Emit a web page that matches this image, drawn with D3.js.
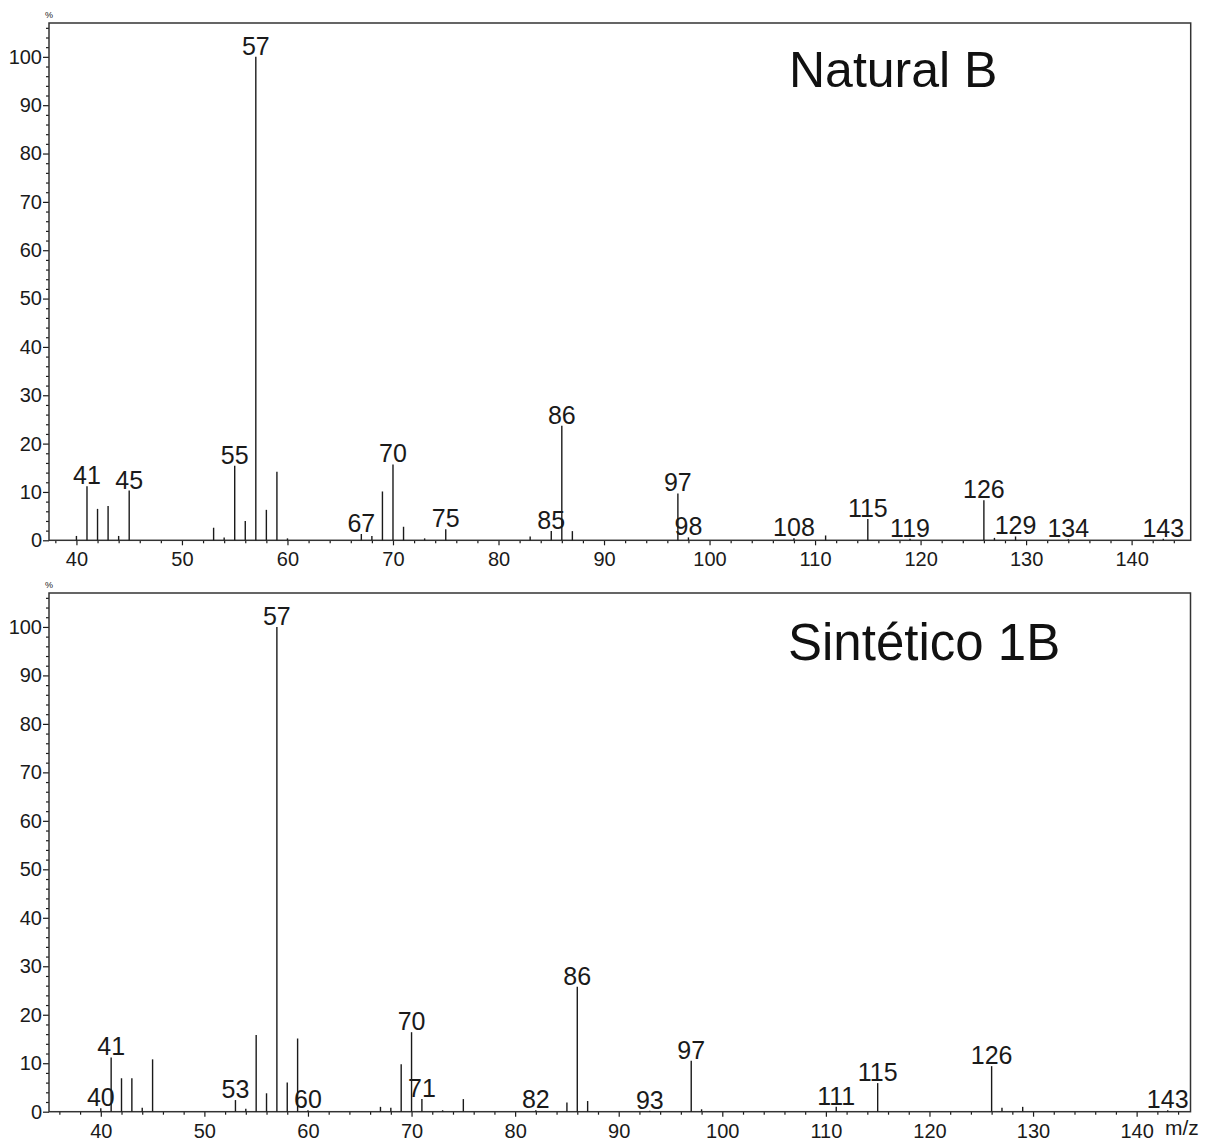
<!DOCTYPE html>
<html>
<head>
<meta charset="utf-8">
<script src="https://cdn.jsdelivr.net/npm/d3@7"></script>
<style>
  html, body { margin: 0; padding: 0; background: #fff; }
  svg { display: block; font-family: "Liberation Sans", Arial, sans-serif; }
</style>
</head>
<body>
<svg id="chart" width="1206" height="1141"></svg>
<script>
// Mass spectra: m/z of each peak and its relative intensity (%)
const naturalMz = [40, 41, 42, 43, 44, 45, 53, 54, 55, 56, 57, 58, 59, 60, 67, 68, 69, 70, 71, 73, 75, 83, 85, 86, 87, 97, 98, 108, 111, 115, 119, 126, 127, 129, 134, 143];
const naturalIntensity = [0.9, 11.2, 6.5, 7.1, 0.9, 10.3, 2.6, 0.6, 15.4, 4.0, 100, 6.3, 14.2, 0.4, 1.3, 0.9, 10.1, 15.7, 2.8, 0.4, 2.3, 0.8, 1.9, 23.7, 1.9, 9.7, 0.6, 0.4, 1.0, 4.4, 0.3, 8.3, 0.5, 0.8, 0.2, 0.3];
const naturalLabeled = [41, 45, 55, 57, 67, 70, 75, 85, 86, 97, 98, 108, 115, 119, 126, 129, 134, 143];

const syntheticMz = [40, 41, 42, 43, 44, 45, 53, 54, 55, 56, 57, 58, 59, 60, 67, 68, 69, 70, 71, 73, 75, 82, 85, 86, 87, 93, 97, 98, 111, 115, 126, 127, 129, 143];
const syntheticIntensity = [0.7, 11.2, 6.9, 6.9, 0.8, 10.8, 2.4, 0.6, 15.8, 3.8, 100, 6.0, 15.1, 0.3, 1.0, 0.8, 9.8, 16.4, 2.6, 0.3, 2.6, 0.3, 1.9, 25.8, 2.2, 0.2, 10.5, 0.5, 1.0, 5.9, 9.4, 0.8, 1.0, 0.3];
const syntheticLabeled = [40, 41, 53, 57, 60, 70, 71, 82, 86, 93, 97, 111, 115, 126, 143];

const xTickLabels = [40, 50, 60, 70, 80, 90, 100, 110, 120, 130, 140];
const yTickLabels = [0, 10, 20, 30, 40, 50, 60, 70, 80, 90, 100];
const panelTitles = ["Natural B", "Sintético 1B"];

const svg = d3.select("#chart");
const ink = "#1a1a1a";

const panels = [
  { title: panelTitles[0], mz: naturalMz, intensity: naturalIntensity, labeled: naturalLabeled,
    xDomain: [37.4, 145.6], left: 49, right: 1190.7, top: 23, bottom: 540.3,
    titleX: 789, titleY: 87, titleSize: 50, showUnit: false },
  { title: panelTitles[1], mz: syntheticMz, intensity: syntheticIntensity, labeled: syntheticLabeled,
    xDomain: [35.0, 145.2], left: 49, right: 1190.5, top: 593, bottom: 1111.7,
    titleX: 788, titleY: 660, titleSize: 51, showUnit: true }
];

panels.forEach(p => {
  const x = d3.scaleLinear().domain(p.xDomain).range([p.left, p.right]);
  const y = d3.scaleLinear().domain([0, 107]).range([p.bottom, p.top]);
  const g = svg.append("g");

  // minor ticks every 2 units on both axes
  const xMinor = d3.range(Math.ceil(p.xDomain[0] / 2) * 2, p.xDomain[1], 2).filter(v => v % 10 !== 0);
  const yMinor = d3.range(2, 107, 2).filter(v => v % 10 !== 0);

  g.append("g")
    .attr("transform", `translate(0,${p.bottom})`)
    .call(d3.axisBottom(x).tickValues(xTickLabels).tickSize(5).tickPadding(7).tickFormat(d3.format("d")));
  g.append("g")
    .attr("transform", `translate(0,${p.bottom})`)
    .call(d3.axisBottom(x).tickValues(xMinor).tickSize(3).tickFormat(""));

  g.append("g")
    .attr("transform", `translate(${p.left},0)`)
    .call(d3.axisLeft(y).tickValues(yTickLabels).tickSize(6).tickPadding(1).tickFormat(d3.format("d")));
  g.append("g")
    .attr("transform", `translate(${p.left},0)`)
    .call(d3.axisLeft(y).tickValues(yMinor).tickSize(3).tickFormat(""));

  g.selectAll(".domain").remove();
  g.selectAll(".tick line").attr("stroke", ink).attr("stroke-width", 1.2);
  g.selectAll(".tick text")
    .attr("fill", ink)
    .style("font-family", "'Liberation Sans', Arial, sans-serif")
    .style("font-size", "20px");

  // frame around the plot area
  g.append("rect")
    .attr("x", p.left).attr("y", p.top)
    .attr("width", p.right - p.left).attr("height", p.bottom - p.top)
    .attr("fill", "none").attr("stroke", "#333").attr("stroke-width", 1.5);

  // "%" marker above the intensity axis
  g.append("text")
    .attr("x", p.left).attr("y", p.top - 5)
    .attr("text-anchor", "middle")
    .attr("font-size", 9).attr("fill", ink)
    .text("%");

  // spectrum peaks as stick lines
  const peaks = p.mz.map((m, i) => ({ mz: m, value: p.intensity[i] }));
  g.append("g").selectAll("line")
    .data(peaks).join("line")
    .attr("x1", d => x(d.mz)).attr("x2", d => x(d.mz))
    .attr("y1", y(0)).attr("y2", d => y(d.value))
    .attr("stroke", ink).attr("stroke-width", 1.4);

  // m/z annotations on selected peaks
  g.append("g").selectAll("text")
    .data(peaks.filter(d => p.labeled.includes(d.mz))).join("text")
    .attr("x", d => x(d.mz))
    .attr("y", d => y(d.value) - 2)
    .attr("text-anchor", "middle")
    .attr("font-size", 25).attr("fill", ink)
    .text(d => d.mz);

  // sample name
  g.append("text")
    .attr("x", p.titleX).attr("y", p.titleY)
    .attr("font-size", p.titleSize).attr("fill", "#111")
    .text(p.title);

  if (p.showUnit) {
    g.append("text")
      .attr("x", 1165).attr("y", p.bottom + 23)
      .attr("font-size", 21).attr("fill", ink)
      .text("m/z");
  }
});
</script>
</body>
</html>
